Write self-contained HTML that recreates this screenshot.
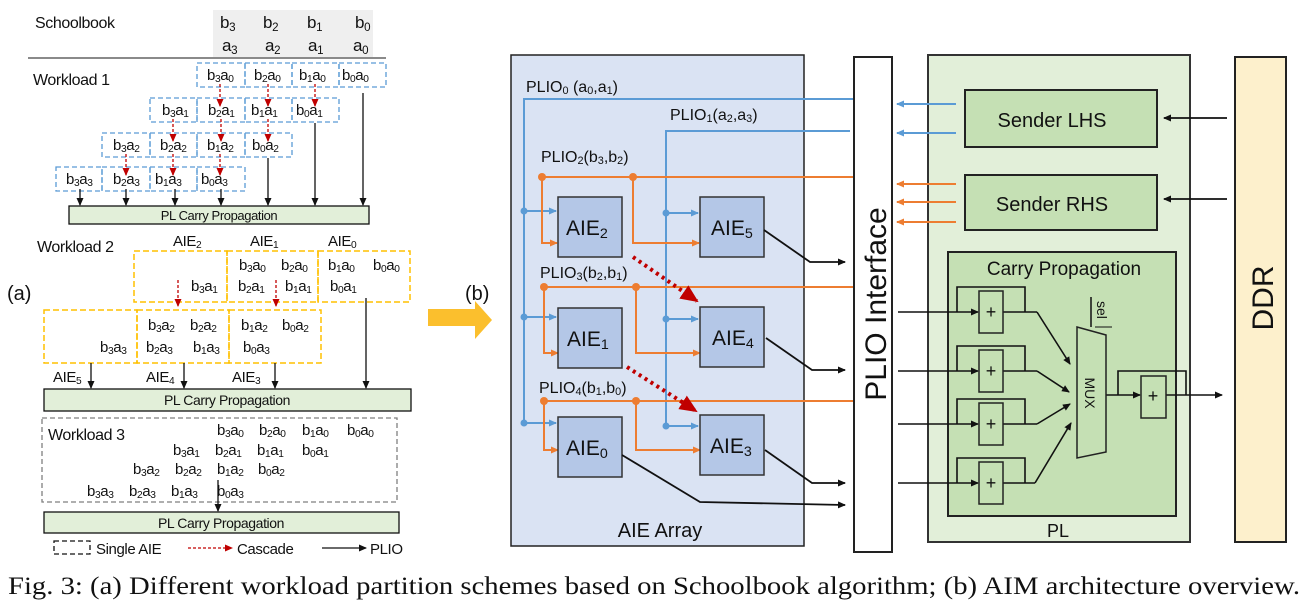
<!DOCTYPE html>
<html><head><meta charset="utf-8">
<style>
html,body{margin:0;padding:0;background:#fff;}
svg{display:block;}
text{font-family:"Liberation Sans",sans-serif;fill:#111;}
.s{baseline-shift:-0.22em;font-size:68%;}
.l text{letter-spacing:-0.4px;}
.cap{font-family:"Liberation Serif",serif;}
</style></head>
<body>
<svg width="1309" height="608" viewBox="0 0 1309 608" xmlns="http://www.w3.org/2000/svg">
<defs>
<marker id="ak" markerWidth="8" markerHeight="8" refX="7" refY="4" orient="auto" markerUnits="userSpaceOnUse"><path d="M0,0.5 L8,4 L0,7.5z" fill="#111"/></marker>
<marker id="ar" markerWidth="8" markerHeight="8" refX="7" refY="4" orient="auto" markerUnits="userSpaceOnUse"><path d="M0,0.5 L8,4 L0,7.5z" fill="#c00000"/></marker>
<marker id="ab" markerWidth="8" markerHeight="8" refX="7" refY="4" orient="auto" markerUnits="userSpaceOnUse"><path d="M0,0.5 L8,4 L0,7.5z" fill="#5b9bd5"/></marker>
<marker id="ao" markerWidth="8" markerHeight="8" refX="7" refY="4" orient="auto" markerUnits="userSpaceOnUse"><path d="M0,0.5 L8,4 L0,7.5z" fill="#ed7d31"/></marker>
<marker id="ard" markerWidth="18" markerHeight="16" refX="16" refY="8" orient="auto" markerUnits="userSpaceOnUse"><path d="M0,0 L18,8 L0,16z" fill="#c00000"/></marker>
</defs>

<g class="l">
<text x="35" y="28" font-size="16">Schoolbook</text>
<rect x="213" y="10" width="160" height="47" fill="#efefef"/>
<g font-size="17">
<text x="220" y="28">b<tspan class="s">3</tspan></text>
<text x="263" y="28">b<tspan class="s">2</tspan></text>
<text x="307" y="28">b<tspan class="s">1</tspan></text>
<text x="355" y="28">b<tspan class="s">0</tspan></text>
<text x="222" y="51">a<tspan class="s">3</tspan></text>
<text x="265" y="51">a<tspan class="s">2</tspan></text>
<text x="308" y="51">a<tspan class="s">1</tspan></text>
<text x="353" y="51">a<tspan class="s">0</tspan></text>
</g>
<line x1="28" y1="58" x2="386" y2="58" stroke="#444" stroke-width="1.3"/>
<text x="33" y="85" font-size="16">Workload 1</text>
<g fill="none" stroke="#5b9bd5" stroke-width="1.3" stroke-dasharray="5,3">
<rect x="197" y="63" width="48" height="24"/><rect x="245" y="63" width="47" height="24"/><rect x="292" y="63" width="47" height="24"/><rect x="339" y="63" width="47" height="24"/>
<rect x="150" y="98" width="47" height="24"/><rect x="197" y="98" width="48" height="24"/><rect x="245" y="98" width="47" height="24"/><rect x="292" y="98" width="47" height="24"/>
<rect x="102" y="133" width="48" height="24"/><rect x="150" y="133" width="47" height="24"/><rect x="197" y="133" width="48" height="24"/><rect x="245" y="133" width="47" height="24"/>
<rect x="56" y="167" width="46" height="24"/><rect x="102" y="167" width="48" height="24"/><rect x="150" y="167" width="47" height="24"/><rect x="197" y="167" width="48" height="24"/>
</g>
<g font-size="15">
<text x="207" y="80">b<tspan class="s">3</tspan>a<tspan class="s">0</tspan></text>
<text x="254" y="80">b<tspan class="s">2</tspan>a<tspan class="s">0</tspan></text>
<text x="299" y="80">b<tspan class="s">1</tspan>a<tspan class="s">0</tspan></text>
<text x="342" y="80">b<tspan class="s">0</tspan>a<tspan class="s">0</tspan></text>
<text x="162" y="115">b<tspan class="s">3</tspan>a<tspan class="s">1</tspan></text>
<text x="208" y="115">b<tspan class="s">2</tspan>a<tspan class="s">1</tspan></text>
<text x="251" y="115">b<tspan class="s">1</tspan>a<tspan class="s">1</tspan></text>
<text x="296" y="115">b<tspan class="s">0</tspan>a<tspan class="s">1</tspan></text>
<text x="113" y="150">b<tspan class="s">3</tspan>a<tspan class="s">2</tspan></text>
<text x="160" y="150">b<tspan class="s">2</tspan>a<tspan class="s">2</tspan></text>
<text x="207" y="150">b<tspan class="s">1</tspan>a<tspan class="s">2</tspan></text>
<text x="252" y="150">b<tspan class="s">0</tspan>a<tspan class="s">2</tspan></text>
<text x="66" y="184">b<tspan class="s">3</tspan>a<tspan class="s">3</tspan></text>
<text x="113" y="184">b<tspan class="s">2</tspan>a<tspan class="s">3</tspan></text>
<text x="155" y="184">b<tspan class="s">1</tspan>a<tspan class="s">3</tspan></text>
<text x="201" y="184">b<tspan class="s">0</tspan>a<tspan class="s">3</tspan></text>
</g>
<g stroke="#c00000" stroke-width="1.3" stroke-dasharray="3,2" marker-end="url(#ar)">
<line x1="220" y1="84" x2="220" y2="106"/><line x1="268" y1="84" x2="268" y2="106"/><line x1="315" y1="84" x2="315" y2="106"/>
<line x1="173" y1="119" x2="173" y2="141"/><line x1="221" y1="119" x2="221" y2="141"/><line x1="268" y1="119" x2="268" y2="141"/>
<line x1="126" y1="154" x2="126" y2="175"/><line x1="173" y1="154" x2="173" y2="175"/><line x1="220" y1="154" x2="220" y2="175"/>
</g>
<g stroke="#111" stroke-width="1.3" marker-end="url(#ak)">
<line x1="80" y1="189" x2="80" y2="205"/><line x1="126" y1="189" x2="126" y2="205"/><line x1="175" y1="189" x2="175" y2="205"/><line x1="221" y1="189" x2="221" y2="205"/>
<line x1="268" y1="158" x2="268" y2="205"/><line x1="315" y1="123" x2="315" y2="205"/><line x1="363" y1="93" x2="363" y2="205"/>
</g>
<rect x="69" y="206" width="300" height="18" fill="#e2efd9" stroke="#111" stroke-width="1.3"/>
<text x="219" y="220" font-size="13" text-anchor="middle">PL Carry Propagation</text>

<text x="37" y="252" font-size="16">Workload 2</text>
<g font-size="15">
<text x="173" y="246">AIE<tspan class="s">2</tspan></text>
<text x="250" y="246">AIE<tspan class="s">1</tspan></text>
<text x="328" y="246">AIE<tspan class="s">0</tspan></text>
</g>
<g fill="none" stroke="#ffc000" stroke-width="1.5" stroke-dasharray="6,3">
<rect x="134" y="251" width="93" height="51"/><rect x="227" y="251" width="91" height="51"/><rect x="318" y="251" width="92" height="51"/>
<rect x="44" y="310" width="93" height="53"/><rect x="137" y="310" width="92" height="53"/><rect x="229" y="310" width="92" height="53"/>
</g>
<g font-size="15">
<text x="239" y="270">b<tspan class="s">3</tspan>a<tspan class="s">0</tspan></text>
<text x="281" y="270">b<tspan class="s">2</tspan>a<tspan class="s">0</tspan></text>
<text x="328" y="270">b<tspan class="s">1</tspan>a<tspan class="s">0</tspan></text>
<text x="373" y="270">b<tspan class="s">0</tspan>a<tspan class="s">0</tspan></text>
<text x="191" y="291">b<tspan class="s">3</tspan>a<tspan class="s">1</tspan></text>
<text x="238" y="291">b<tspan class="s">2</tspan>a<tspan class="s">1</tspan></text>
<text x="285" y="291">b<tspan class="s">1</tspan>a<tspan class="s">1</tspan></text>
<text x="330" y="291">b<tspan class="s">0</tspan>a<tspan class="s">1</tspan></text>
<text x="148" y="330">b<tspan class="s">3</tspan>a<tspan class="s">2</tspan></text>
<text x="190" y="330">b<tspan class="s">2</tspan>a<tspan class="s">2</tspan></text>
<text x="241" y="330">b<tspan class="s">1</tspan>a<tspan class="s">2</tspan></text>
<text x="282" y="330">b<tspan class="s">0</tspan>a<tspan class="s">2</tspan></text>
<text x="100" y="352">b<tspan class="s">3</tspan>a<tspan class="s">3</tspan></text>
<text x="146" y="352">b<tspan class="s">2</tspan>a<tspan class="s">3</tspan></text>
<text x="193" y="352">b<tspan class="s">1</tspan>a<tspan class="s">3</tspan></text>
<text x="243" y="352">b<tspan class="s">0</tspan>a<tspan class="s">3</tspan></text>
<text x="53" y="382">AIE<tspan class="s">5</tspan></text>
<text x="146" y="382">AIE<tspan class="s">4</tspan></text>
<text x="232" y="382">AIE<tspan class="s">3</tspan></text>
</g>
<g stroke="#c00000" stroke-width="1.3" stroke-dasharray="3,2" marker-end="url(#ar)">
<line x1="178" y1="280" x2="178" y2="306"/><line x1="276" y1="280" x2="276" y2="306"/>
</g>
<g stroke="#111" stroke-width="1.3" marker-end="url(#ak)">
<line x1="91" y1="363" x2="91" y2="388"/><line x1="184" y1="363" x2="184" y2="388"/><line x1="275" y1="363" x2="275" y2="388"/><line x1="366" y1="298" x2="366" y2="388"/>
</g>
<rect x="44" y="389" width="367" height="22" fill="#e2efd9" stroke="#111" stroke-width="1.3"/>
<text x="227" y="405" font-size="14" text-anchor="middle">PL Carry Propagation</text>

<rect x="42" y="418" width="355" height="84" fill="none" stroke="#7f7f7f" stroke-width="1.3" stroke-dasharray="5,3"/>
<text x="48" y="440" font-size="16">Workload 3</text>
<g font-size="15">
<text x="217" y="435">b<tspan class="s">3</tspan>a<tspan class="s">0</tspan></text><text x="259" y="435">b<tspan class="s">2</tspan>a<tspan class="s">0</tspan></text><text x="302" y="435">b<tspan class="s">1</tspan>a<tspan class="s">0</tspan></text><text x="347" y="435">b<tspan class="s">0</tspan>a<tspan class="s">0</tspan></text>
<text x="173" y="455">b<tspan class="s">3</tspan>a<tspan class="s">1</tspan></text><text x="215" y="455">b<tspan class="s">2</tspan>a<tspan class="s">1</tspan></text><text x="257" y="455">b<tspan class="s">1</tspan>a<tspan class="s">1</tspan></text><text x="302" y="455">b<tspan class="s">0</tspan>a<tspan class="s">1</tspan></text>
<text x="133" y="474">b<tspan class="s">3</tspan>a<tspan class="s">2</tspan></text><text x="175" y="474">b<tspan class="s">2</tspan>a<tspan class="s">2</tspan></text><text x="217" y="474">b<tspan class="s">1</tspan>a<tspan class="s">2</tspan></text><text x="258" y="474">b<tspan class="s">0</tspan>a<tspan class="s">2</tspan></text>
<text x="87" y="496">b<tspan class="s">3</tspan>a<tspan class="s">3</tspan></text><text x="129" y="496">b<tspan class="s">2</tspan>a<tspan class="s">3</tspan></text><text x="171" y="496">b<tspan class="s">1</tspan>a<tspan class="s">3</tspan></text><text x="217" y="496">b<tspan class="s">0</tspan>a<tspan class="s">3</tspan></text>
</g>
<line x1="218" y1="480" x2="218" y2="511" stroke="#111" stroke-width="1.3" marker-end="url(#ak)"/>
<rect x="44" y="512" width="355" height="21" fill="#e2efd9" stroke="#111" stroke-width="1.3"/>
<text x="221" y="528" font-size="14" text-anchor="middle">PL Carry Propagation</text>

<rect x="54" y="541" width="36" height="13" fill="none" stroke="#111" stroke-width="1.3" stroke-dasharray="5,3"/>
<text x="96" y="554" font-size="15">Single AIE</text>
<line x1="188" y1="548" x2="232" y2="548" stroke="#c00000" stroke-width="1.3" stroke-dasharray="3,2" marker-end="url(#ar)"/>
<text x="237" y="554" font-size="15">Cascade</text>
<line x1="322" y1="548" x2="366" y2="548" stroke="#111" stroke-width="1.3" marker-end="url(#ak)"/>
<text x="370" y="554" font-size="15">PLIO</text>
</g>

<text x="7" y="300" font-size="20">(a)</text>

<text x="465" y="300" font-size="20">(b)</text>
<path d="M428,309 L475,309 L475,301 L492,320 L475,339 L475,326 L428,326z" fill="#fbbf2d"/>

<rect x="511" y="55" width="293" height="491" fill="#dae3f3" stroke="#222" stroke-width="1.5"/>
<text x="660" y="537" font-size="20" text-anchor="middle">AIE Array</text>
<g font-size="16">
<text x="526" y="92">PLIO<tspan class="s">0</tspan> (a<tspan class="s">0</tspan>,a<tspan class="s">1</tspan>)</text>
<text x="670" y="120">PLIO<tspan class="s">1</tspan>(a<tspan class="s">2</tspan>,a<tspan class="s">3</tspan>)</text>
<text x="541" y="162">PLIO<tspan class="s">2</tspan>(b<tspan class="s">3</tspan>,b<tspan class="s">2</tspan>)</text>
<text x="540" y="278">PLIO<tspan class="s">3</tspan>(b<tspan class="s">2</tspan>,b<tspan class="s">1</tspan>)</text>
<text x="539" y="393">PLIO<tspan class="s">4</tspan>(b<tspan class="s">1</tspan>,b<tspan class="s">0</tspan>)</text>
</g>
<g stroke="#5b9bd5" stroke-width="2" fill="none">
<polyline points="854,99 524,99 524,423"/>
<polyline points="850,131 666,131 666,426"/>
</g>
<g stroke="#5b9bd5" stroke-width="2" marker-end="url(#ab)">
<line x1="524" y1="211" x2="556" y2="211"/><line x1="524" y1="317" x2="556" y2="317"/><line x1="524" y1="423" x2="556" y2="423"/>
<line x1="666" y1="213" x2="698" y2="213"/><line x1="666" y1="319" x2="698" y2="319"/><line x1="666" y1="426" x2="698" y2="426"/>
</g>
<g fill="#5b9bd5">
<circle cx="524" cy="211" r="3.5"/><circle cx="524" cy="317" r="3.5"/><circle cx="524" cy="423" r="3.5"/>
<circle cx="666" cy="213" r="3.5"/><circle cx="666" cy="319" r="3.5"/><circle cx="666" cy="426" r="3.5"/>
</g>
<g stroke="#ed7d31" stroke-width="2" fill="none">
<line x1="542" y1="177" x2="854" y2="177"/>
<line x1="544" y1="287" x2="854" y2="287"/>
<line x1="544" y1="401" x2="854" y2="401"/>
</g>
<g stroke="#ed7d31" stroke-width="2" fill="none" marker-end="url(#ao)">
<polyline points="542,177 542,243 557,243"/><polyline points="633,177 633,243 699,243"/>
<polyline points="544,287 544,353 558,353"/><polyline points="636,287 636,353 700,353"/>
<polyline points="544,401 544,450 558,450"/><polyline points="636,401 636,450 700,450"/>
</g>
<g fill="#ed7d31">
<circle cx="542" cy="177" r="4"/><circle cx="633" cy="177" r="4"/>
<circle cx="544" cy="287" r="4"/><circle cx="636" cy="287" r="4"/>
<circle cx="544" cy="401" r="4"/><circle cx="636" cy="401" r="4"/>
</g>
<g fill="#b4c7e7" stroke="#333" stroke-width="1.5">
<rect x="558" y="197" width="64" height="60"/><rect x="700" y="197" width="64" height="60"/>
<rect x="558" y="308" width="64" height="60"/><rect x="700" y="307" width="64" height="60"/>
<rect x="558" y="417" width="64" height="60"/><rect x="700" y="415" width="64" height="60"/>
</g>
<g font-size="21">
<text x="566" y="235">AIE<tspan class="s">2</tspan></text>
<text x="711" y="235">AIE<tspan class="s">5</tspan></text>
<text x="567" y="346">AIE<tspan class="s">1</tspan></text>
<text x="712" y="345">AIE<tspan class="s">4</tspan></text>
<text x="566" y="455">AIE<tspan class="s">0</tspan></text>
<text x="710" y="453">AIE<tspan class="s">3</tspan></text>
</g>
<g stroke="#c00000" stroke-width="4" stroke-dasharray="3,4" marker-end="url(#ard)">
<line x1="633" y1="257" x2="697" y2="301"/>
<line x1="627" y1="367" x2="696" y2="411"/>
</g>
<g stroke="#111" stroke-width="1.8" fill="none" marker-end="url(#ak)">
<polyline points="764,230 810,262 845,262"/>
<polyline points="766,338 812,370 845,370"/>
<polyline points="765,450 812,483 845,483"/>
<polyline points="622,455 700,502 845,505"/>
</g>

<rect x="854" y="57" width="38" height="495" fill="#fff" stroke="#222" stroke-width="2"/>
<text transform="translate(886,304) rotate(-90)" font-size="30" text-anchor="middle">PLIO Interface</text>

<rect x="928" y="55" width="262" height="487" fill="#e2efd9" stroke="#333" stroke-width="2"/>
<text x="1058" y="537" font-size="18" text-anchor="middle">PL</text>
<rect x="965" y="90" width="192" height="57" fill="#c5e0b4" stroke="#222" stroke-width="2"/>
<text x="1052" y="127" font-size="20" text-anchor="middle">Sender LHS</text>
<rect x="965" y="175" width="192" height="55" fill="#c5e0b4" stroke="#222" stroke-width="2"/>
<text x="1052" y="211" font-size="20" text-anchor="middle">Sender RHS</text>
<g stroke="#5b9bd5" stroke-width="2" marker-end="url(#ab)">
<line x1="956" y1="104" x2="897" y2="104"/><line x1="956" y1="133" x2="897" y2="133"/>
</g>
<g stroke="#ed7d31" stroke-width="2" marker-end="url(#ao)">
<line x1="956" y1="184" x2="897" y2="184"/><line x1="956" y1="202" x2="897" y2="202"/><line x1="956" y1="222" x2="897" y2="222"/>
</g>
<rect x="948" y="252" width="228" height="264" fill="#c5e0b4" stroke="#222" stroke-width="2"/>
<text x="1064" y="275" font-size="19" text-anchor="middle">Carry Propagation</text>
<g stroke="#111" stroke-width="1.6" fill="none">
<polyline points="957,312 957,287 1025,287 1025,312"/>
<polyline points="957,371 957,346 1025,346 1025,371"/>
<polyline points="957,424 957,399 1025,399 1025,424"/>
<polyline points="957,483 957,458 1025,458 1025,483"/>
<line x1="1003" y1="312" x2="1037" y2="312"/><line x1="1003" y1="371" x2="1037" y2="371"/><line x1="1003" y1="424" x2="1037" y2="424"/><line x1="1003" y1="483" x2="1035" y2="483"/>
</g>
<g stroke="#111" stroke-width="1.6" fill="none" marker-end="url(#ak)">
<line x1="898" y1="312" x2="978" y2="312"/><line x1="898" y1="371" x2="978" y2="371"/><line x1="898" y1="424" x2="978" y2="424"/><line x1="898" y1="483" x2="978" y2="483"/>
<line x1="1037" y1="312" x2="1070" y2="364"/>
<line x1="1037" y1="371" x2="1069" y2="392"/>
<line x1="1037" y1="424" x2="1070" y2="404"/>
<line x1="1035" y1="483" x2="1071" y2="423"/>
<polyline points="1106,395 1118,395 1140,395"/>
<line x1="1166" y1="395" x2="1222" y2="395"/>
</g>
<polyline points="1118,395 1118,371 1186,371 1186,395" stroke="#111" stroke-width="1.6" fill="none"/>
<g fill="#c5e0b4" stroke="#222" stroke-width="1.5">
<rect x="979" y="291" width="24" height="42"/><rect x="979" y="350" width="24" height="42"/><rect x="979" y="403" width="24" height="42"/><rect x="979" y="462" width="24" height="42"/>
<rect x="1141" y="376" width="25" height="42"/>
<path d="M1077,327 L1106,335 L1106,452 L1077,458z"/>
</g>
<g font-size="18" text-anchor="middle">
<text x="991" y="318">+</text><text x="991" y="377">+</text><text x="991" y="430">+</text><text x="991" y="489">+</text><text x="1153" y="402">+</text>
</g>
<text transform="translate(1085,393) rotate(90)" font-size="14" text-anchor="middle">MUX</text>
<line x1="1091" y1="297" x2="1091" y2="327" stroke="#111" stroke-width="1.5"/>
<text transform="translate(1097,301) rotate(90)" font-size="14">sel</text>
<line x1="1095" y1="327" x2="1112" y2="327" stroke="#111" stroke-width="1"/>

<rect x="1235" y="57" width="51" height="485" fill="#fdf0cc" stroke="#222" stroke-width="2"/>
<text transform="translate(1273,298) rotate(-90)" font-size="30" text-anchor="middle">DDR</text>
<g stroke="#111" stroke-width="1.8" marker-end="url(#ak)">
<line x1="1227" y1="118" x2="1164" y2="118"/><line x1="1227" y1="199" x2="1164" y2="199"/>
</g>

<text class="cap" x="8" y="594" font-size="25" textLength="1292" lengthAdjust="spacingAndGlyphs">Fig. 3: (a) Different workload partition schemes based on Schoolbook algorithm; (b) AIM architecture overview.</text>
</svg>
</body></html>
